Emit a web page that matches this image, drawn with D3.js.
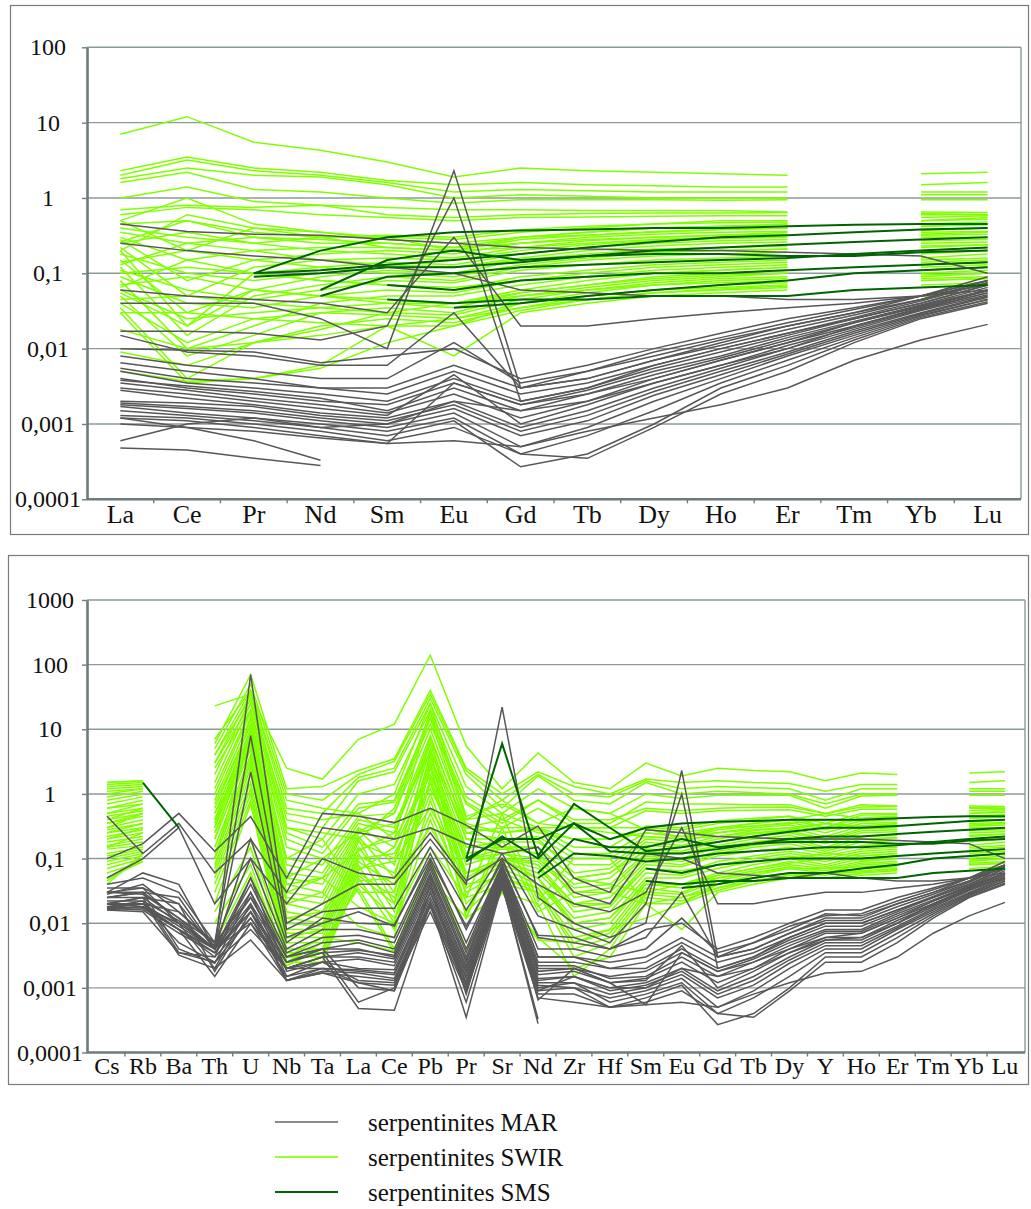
<!DOCTYPE html>
<html><head><meta charset="utf-8">
<script src="https://cdn.jsdelivr.net/npm/d3@7/dist/d3.min.js"></script>
<style>body{margin:0;background:#fff}svg{display:block}
svg text{font-family:"Liberation Serif","Times New Roman","DejaVu Serif",serif !important;}</style>
</head><body>
<svg id="c" width="1031" height="1209"></svg>
<script>
// ---------- categories & ticks ----------
const reeElements = ["La","Ce","Pr","Nd","Sm","Eu","Gd","Tb","Dy","Ho","Er","Tm","Yb","Lu"];
const extraElements = ["Cs","Rb","Ba","Th","U","Nb","Ta","Pb","Sr","Zr","Hf","Y"];
const spiderElements = ["Cs","Rb","Ba","Th","U","Nb","Ta","La","Ce","Pb","Pr","Sr","Nd","Zr","Hf","Sm","Eu","Gd","Tb","Dy","Y","Ho","Er","Tm","Yb","Lu"];
const topTickValues = [0.0001,0.001,0.01,0.1,1,10,100];
const topTickLabels = ["0,0001","0,001","0,01","0,1","1","10","100"];
const bottomTickValues = [0.0001,0.001,0.01,0.1,1,10,100,1000];
const bottomTickLabels = ["0,0001","0,001","0,01","0,1","1","10","100","1000"];
const legendLabels = ["serpentinites MAR","serpentinites SWIR","serpentinites SMS"];

// ---------- MAR serpentinites: REE (La..Lu) ----------
const marREE = [
[.45,.36,.33,.32,.28,.25,.22,.21,.2,.2,.19,.18,.17,.1],
[.25,.2,.17,.15,.12,.1,.06,.055,.05,.05,.045,.045,.05,.06],
[.06,.05,.045,.04,.03,.3,.02,.02,.025,.03,.035,.04,.05,.07],
[.04,.04,.04,.025,.01,2.3,.003,.004,.007,.012,.02,.03,.05,.08],
[.017,.017,.016,.013,.02,1.0,.002,.003,.006,.01,.016,.025,.04,.07],
[.015,.009,.008,.006,.006,.03,.003,.005,.008,.013,.02,.03,.045,.075],
[.01,.0095,.009,.0065,.008,.01,.004,.006,.01,.016,.025,.035,.05,.08],
[.008,.006,.005,.004,.004,.012,.0035,.005,.009,.014,.022,.033,.05,.09],
[.0065,.005,.004,.003,.003,.006,.003,.004,.007,.011,.018,.028,.045,.08],
[.0055,.004,.0035,.003,.0025,.005,.0025,.0035,.006,.01,.016,.026,.043,.075],
[.005,.0035,.003,.0025,.002,.004,.002,.003,.0055,.009,.015,.025,.04,.07],
[.004,.003,.0025,.002,.0018,.0035,.0018,.0028,.005,.008,.014,.023,.038,.065],
[.0038,.0032,.0027,.0022,.0015,.003,.0015,.0025,.0045,.0075,.013,.022,.037,.06],
[.0035,.0028,.0022,.0018,.0014,.0025,.0012,.002,.004,.007,.012,.02,.035,.058],
[.003,.0025,.002,.0016,.0013,.0045,.001,.0018,.0035,.006,.011,.019,.033,.055],
[.0028,.0022,.0018,.0014,.0012,.002,.0009,.0015,.003,.0055,.01,.018,.032,.052],
[.002,.0019,.0017,.0013,.0011,.0018,.0008,.0013,.0027,.005,.009,.017,.03,.05],
[.0019,.0017,.0015,.0012,.001,.0016,.0007,.0011,.0024,.0045,.0085,.016,.029,.048],
[.0018,.0016,.0014,.0011,.0009,.0014,.0005,.0009,.002,.004,.008,.015,.028,.045],
[.0017,.0014,.0012,.001,.0008,.0012,.0004,.0007,.0015,.0035,.007,.014,.027,.045],
[.0015,.0013,.0011,.0009,.0007,.0011,.00027,.0004,.001,.003,.006,.013,.026,.042],
[.0013,.0012,.001,.0008,.0006,.0009,.0004,.00035,.0009,.0025,.005,.012,.025,.04],
[.0012,.0011,.0009,.0007,.00055,.0006,.0005,.0008,.0012,.0018,.003,.007,.013,.021],
[.001,.0009,.0008,.00065,.00055,.0035,.0018,.0025,.004,.007,.012,.022,.036,.06],
[.0006,.001,.0012,.0009,.001,.002,.0015,.002,.0035,.006,.01,.02,.034,.055],
[.00048,.00045,.00035,.00028,null,null,null,null,null,null,null,null,null,null],
[.0012,.0009,.0006,.00033,null,null,null,null,null,null,null,null,null,null]
];
// MAR: other trace elements (Cs,Rb,Ba,Th,U,Nb,Ta,Pb,Sr,Zr,Hf,Y)
const marTrace = [
[.1,.17,.5,.13,.45,.05,.5,.6,.15,.05,.03,.2],
[.45,.12,.35,.06,.2,.03,.3,.3,.12,.03,.02,.06],
[.05,.1,.3,.02,.1,.02,.1,.25,.1,.02,.015,.03],
[.03,.06,.04,.004,70,.01,.02,.2,22,.01,.006,.012],
[.04,.05,.03,.005,8,.008,.015,.15,.12,.008,.005,.01],
[.035,.035,.02,.004,2.2,.006,.01,.12,.1,.005,.004,.014],
[.03,.03,.025,.004,.2,.005,.012,.1,.09,.006,.004,.016],
[.025,.03,.012,.005,.1,.004,.008,.09,.08,.004,.003,.013],
[.025,.025,.01,.004,.05,.0035,.006,.08,.08,.003,.0025,.011],
[.022,.022,.011,.004,.04,.003,.005,.07,.075,.003,.002,.01],
[.02,.02,.015,.0045,.03,.003,.004,.06,.07,.0025,.002,.009],
[.02,.018,.008,.004,.025,.0025,.004,.055,.07,.002,.0015,.008],
[.018,.02,.009,.004,.02,.0025,.0035,.05,.065,.0022,.0014,.0075],
[.018,.017,.008,.0035,.018,.002,.003,.045,.06,.002,.0012,.007],
[.017,.016,.007,.0035,.015,.002,.003,.04,.06,.0018,.0012,.006],
[.016,.015,.0035,.003,.05,.0018,.0025,.035,.055,.0015,.001,.0055],
[.02,.025,.0035,.0025,.012,.0015,.0025,.03,.05,.0015,.0009,.005],
[.025,.03,.004,.0024,.03,.0015,.002,.03,.05,.0012,.0008,.0045],
[.03,.035,.01,.002,.02,.0013,.002,.025,.045,.001,.0007,.004],
[.02,.025,.02,.0018,.015,.0013,.0018,.022,.045,.0012,.0006,.0035],
[.016,.018,.008,.0015,.01,.0013,.0017,.02,.04,.001,.0005,.003],
[.017,.02,.005,.0025,.008,.002,.0025,.018,.04,.0008,.0005,.0025],
[.018,.022,.0032,.002,.0055,.0013,.0017,.015,.035,.0006,.0005,.0017],
[.028,.04,.015,.005,.025,.003,.004,.04,.06,.002,.0012,.006],
[.03,.028,.012,.004,.015,.0025,.0035,.03,.05,.0015,.001,.0055],
[.02,.018,.01,.004,.01,.002,.003,.02,.04,null,null,null],
[.02,.02,.008,.003,.012,.002,.002,.02,.04,null,null,null]
];

// ---------- SWIR serpentinites: REE (La..Lu), Tm not analysed ----------
const swirREE = [
[7,12,5.5,4.3,3.0,1.9,2.5,2.3,2.2,2.1,2.0,null,2.1,2.2],
[2.3,3.5,2.5,2.2,1.7,1.5,1.6,1.5,1.45,1.4,1.4,null,1.5,1.6],
[2.0,3.2,2.3,2.0,1.6,1.2,1.3,1.25,1.2,1.2,1.2,null,1.2,1.2],
[1.8,2.5,2.0,1.9,1.5,1.0,1.1,1.05,1.0,1.0,1.0,null,1.1,1.1],
[1.6,2.2,1.3,1.2,1.0,.85,.95,.95,.95,.93,.95,null,.95,.95],
[1.0,1.4,.9,.8,.6,.55,.6,.62,.63,.63,.64,null,.65,.64],
[.7,.8,.75,.8,.75,.7,.7,.68,.68,.68,.65,null,.62,.6],
[.6,.75,.7,.6,.55,.5,.55,.56,.57,.58,.58,null,.6,.6],
[.45,.5,.35,.3,.3,.28,.35,.4,.45,.5,.5,null,.55,.58],
[.4,.3,.25,.3,.32,.3,.38,.42,.45,.47,.48,null,.5,.52],
[.35,.25,.3,.28,.25,.22,.3,.35,.4,.42,.45,null,.45,.48],
[.3,.15,.2,.22,.22,.2,.28,.32,.36,.38,.4,null,.42,.45],
[.28,.08,.15,.18,.2,.18,.25,.3,.33,.35,.36,null,.38,.4],
[.25,.35,.25,.2,.18,.16,.22,.27,.3,.32,.33,null,.35,.36],
[.22,.05,.12,.15,.16,.15,.2,.24,.27,.29,.3,null,.32,.33],
[.2,.02,.1,.12,.14,.13,.18,.22,.25,.27,.28,null,.3,.3],
[.18,.1,.08,.1,.12,.12,.16,.2,.23,.25,.26,null,.27,.28],
[.15,.03,.06,.09,.11,.1,.15,.18,.21,.22,.23,null,.25,.26],
[.14,.2,.15,.12,.1,.09,.13,.16,.19,.2,.21,null,.23,.24],
[.12,.015,.05,.07,.09,.08,.12,.15,.17,.18,.19,null,.2,.22],
[.11,.06,.045,.06,.08,.075,.11,.13,.15,.16,.17,null,.18,.2],
[.1,.12,.1,.08,.07,.06,.09,.11,.13,.14,.15,null,.16,.18],
[.09,.04,.035,.05,.06,.055,.08,.1,.12,.13,.14,null,.15,.16],
[.08,.01,.02,.04,.05,.05,.07,.09,.11,.12,.13,null,.14,.15],
[.07,.09,.06,.05,.045,.04,.06,.08,.1,.11,.12,null,.13,.14],
[.06,.025,.03,.035,.04,.035,.055,.07,.09,.1,.11,null,.12,.13],
[.05,.008,.015,.03,.035,.03,.05,.065,.08,.09,.1,null,.11,.12],
[.045,.05,.04,.035,.03,.028,.045,.06,.075,.085,.09,null,.1,.11],
[.04,.012,.025,.03,.028,.025,.04,.055,.07,.08,.085,null,.095,.1],
[.035,.004,.012,.02,.025,.022,.035,.05,.06,.07,.075,null,.085,.09],
[.03,.03,.025,.022,.02,.02,.032,.045,.055,.062,.068,null,.08,.085],
[.03,.0035,.004,.006,.02,.008,.03,.04,.05,.055,.06,null,.07,.075],
[.018,.01,.012,.018,.03,.04,.05,.06,.07,.075,.08,null,.09,.1],
[.009,.006,.012,.015,.02,.025,.035,.045,.055,.06,.065,null,.05,.045],
[.005,.0037,.004,.0055,.012,.02,.04,.05,.06,.065,.07,null,.08,.085],
[.5,.2,.4,.35,.3,.2,.3,.32,.35,.38,.4,null,.42,.44],
[.26,.5,.3,.25,.25,.22,.25,.28,.3,.32,.35,null,.37,.4],
[.13,.25,.2,.15,.13,.12,.15,.17,.19,.2,.21,null,.22,.24],
[.065,.15,.1,.08,.07,.065,.08,.09,.1,.11,.12,null,.13,.14],
[.2,.6,.4,.3,.22,.2,.22,.25,.28,.3,.32,null,.33,.35],
[.5,1.0,.45,.35,.28,.25,.3,.35,.4,.42,.45,null,.5,.55],
[.055,.02,.06,.05,.04,.04,.055,.07,.085,.095,.1,null,.11,.12]
];
// SWIR: other trace elements (Cs,Rb,Ba,Th,U,Nb,Ta,Pb,Sr,Zr,Hf,Y), Ba not analysed
const swirTrace = [
[1.5,1.6,null,23,35,2.5,1.7,140,1.2,1.5,1.2,1.6],
[1.4,1.5,null,6,70,1.2,1.3,40,1.0,1.3,1.0,1.1],
[1.3,1.4,null,5,50,1.0,.8,35,.8,1.0,.9,.8],
[1.2,1.3,null,4,40,.6,.5,30,.6,.8,.7,.7],
[1.0,1.2,null,3,35,.4,.3,25,.5,.6,.5,.6],
[.7,.9,null,2,30,.3,.2,20,.4,.4,.4,.5],
[.6,.7,null,1.5,25,.25,.15,15,.35,.35,.35,.5],
[.5,.6,null,1.2,20,.2,.12,12,.3,.3,.3,.45],
[.45,.55,null,1.0,18,.1,.08,10,.25,.2,.2,.35],
[.4,.5,null,.8,15,.08,.06,8,.3,.15,.15,.3],
[.35,.45,null,.6,12,.06,.05,7,.25,.12,.12,.3],
[.3,.4,null,.5,10,.05,.04,6,.2,.1,.1,.28],
[.28,.35,null,.4,9,.04,.03,5,.18,.08,.08,.25],
[.25,.3,null,.35,8,.03,.025,4.5,.2,.06,.07,.22],
[.22,.28,null,.3,7,.025,.02,4,.15,.05,.06,.2],
[.2,.25,null,.25,6,.02,.015,3.5,.14,.04,.05,.19],
[.18,.22,null,.2,5,.015,.012,3,.12,.035,.04,.17],
[.16,.2,null,.15,4,.012,.01,2.5,.1,.03,.035,.15],
[.15,.18,null,.12,3.5,.01,.009,2,.15,.025,.03,.14],
[.14,.16,null,.1,3,.008,.008,1.8,.1,.02,.025,.13],
[.12,.15,null,.08,2.5,.007,.007,1.5,.09,.018,.02,.12],
[.11,.14,null,.07,2,.006,.006,1.2,.12,.015,.018,.11],
[.1,.13,null,.06,1.5,.005,.005,1,.08,.012,.015,.1],
[.09,.12,null,.05,1.2,.004,.004,.8,.07,.01,.012,.09],
[.08,.11,null,.04,1,.0035,.0035,.6,.1,.008,.01,.08],
[.07,.1,null,.03,.8,.003,.003,.5,.06,.006,.008,.075],
[.06,.09,null,.02,.7,.0025,.0025,.4,.05,.005,.007,.07],
[.05,.09,null,.015,.15,.002,.003,.3,.05,.004,.006,.065],
[.045,.1,null,.01,.08,.0022,.004,.15,.04,.003,.005,.06],
[.04,.12,null,.005,.06,.0025,.005,.05,.03,.0015,.004,.055],
[.6,.8,null,.2,10,.1,.2,8,.5,.1,.1,.06],
[.3,.5,null,.1,8,.05,.1,.1,.03,.002,.003,.06],
[.5,.7,null,.5,5,.03,.05,3,.3,.05,.04,.07],
[.4,.6,null,.3,15,.02,.03,5,.2,.03,.03,.05],
[.2,.3,null,.004,.2,.003,.006,.08,.03,.005,.008,.06],
[.8,1.0,null,3,25,.5,.4,20,.8,.3,.3,.4],
[.9,1.1,null,2.5,20,.15,.1,15,.4,.2,.2,.35],
[.35,.5,null,.7,12,.04,.05,6,.15,.05,.06,.2],
[.25,.35,null,.4,6,.012,.015,2,.1,.02,.02,.12],
[1.1,1.2,null,4,30,.3,.25,18,.5,.3,.25,.35],
[1.5,1.6,null,7,40,.8,.6,25,.7,.6,.5,.5],
[.15,.25,null,.1,3,.006,.008,1.5,.08,.01,.012,.1]
];

// ---------- SMS serpentinites ----------
const smsREE = [
[null,null,.1,.2,.3,.35,.37,.38,.4,.4,.42,.44,.45,.45],
[null,null,.1,.11,.13,.15,.18,.22,.26,.3,.32,.35,.38,.4],
[null,null,.09,.1,.12,.12,.14,.17,.2,.22,.24,.26,.28,.3],
[null,null,null,.06,.15,.2,.15,.17,.18,.18,.17,.17,.19,.2],
[null,null,null,.05,.09,.1,.12,.13,.14,.15,.16,.18,.2,.22],
[null,null,null,null,.07,.06,.08,.09,.1,.1,.11,.12,.13,.14],
[null,null,null,null,.045,.04,.045,.045,.05,.05,.05,.06,.065,.07],
[null,null,null,null,null,.035,.04,.05,.06,.07,.08,.1,.11,.12]
];
const smsTrace = [
[null,1.5,.3,null,null,null,null,null,.2,.35,.2,.4],
[null,null,null,null,null,null,null,null,6,.7,.3,.3],
[null,null,null,null,null,null,null,null,.22,.35,.13,.22],
[null,null,null,null,null,null,null,null,null,.2,.15,.18],
[null,null,null,null,null,null,null,null,null,.12,.11,.15],
[null,null,null,null,null,null,null,null,null,null,null,.1],
[null,null,null,null,null,null,null,null,null,null,null,.05],
[null,null,null,null,null,null,null,null,null,null,null,.06]
];

// ---------- helpers ----------
function toSpider(reeRows, traceRows){
  return reeRows.map((r,i)=>spiderElements.map(el=>{
    const a = reeElements.indexOf(el);
    return a>=0 ? r[a] : traceRows[i][extraElements.indexOf(el)];
  }));
}
const colors = {MAR:"#575757", SWIR:"#80ff00", SMS:"#006400"};
const groupsTop = [
  {rows:swirREE, color:colors.SWIR, w:1.5},
  {rows:marREE, color:colors.MAR, w:1.5},
  {rows:smsREE, color:colors.SMS, w:2}
];
const groupsBottom = [
  {rows:toSpider(swirREE, swirTrace), color:colors.SWIR, w:1.5},
  {rows:toSpider(marREE, marTrace), color:colors.MAR, w:1.5},
  {rows:toSpider(smsREE, smsTrace), color:colors.SMS, w:2}
];

const svg = d3.select("#c");
const FONT = '"Liberation Serif","Times New Roman","DejaVu Serif",serif';
const GRID = "#8c9a9a", AXIS = "#6c7c7c";

// frames
svg.append("rect").attr("x",10.5).attr("y",5.5).attr("width",1018).attr("height",529)
  .attr("fill","none").attr("stroke","#7a7a7a").attr("stroke-width",1.2);
svg.append("rect").attr("x",8.5).attr("y",555.5).attr("width",1020).attr("height",529)
  .attr("fill","none").attr("stroke","#7a7a7a").attr("stroke-width",1.2);

function panel(cfg){
  const g = svg.append("g");
  const x = d3.scaleBand().domain(cfg.cats).range([cfg.bx0, cfg.bx1]);
  const cx = d => x(d) + x.bandwidth()/2;
  const y = d3.scaleLog().domain(cfg.yDomain).range(cfg.yRange);
  const top = cfg.yRange[1], bottom = cfg.yRange[0];
  g.selectAll("line.grid").data(cfg.ticks.slice(1)).join("line")
    .attr("x1",cfg.ax).attr("x2",cfg.right).attr("y1",d=>y(d)).attr("y2",d=>y(d))
    .attr("stroke",GRID).attr("stroke-width",1.4);
  g.append("line").attr("x1",cfg.right).attr("x2",cfg.right).attr("y1",top).attr("y2",bottom)
    .attr("stroke",GRID).attr("stroke-width",1.4);
  const line = d3.line().defined(d=>d.v!=null).x(d=>cx(d.k)).y(d=>y(d.v));
  cfg.groups.forEach(gr=>{
    g.append("g").selectAll("path").data(gr.rows).join("path")
      .attr("d",r=>line(r.map((v,i)=>({k:cfg.cats[i],v}))))
      .attr("fill","none").attr("stroke",gr.color).attr("stroke-width",gr.w)
      .attr("stroke-linejoin","miter");
  });
  const ya = g.append("g").attr("transform",`translate(${cfg.ax},0)`)
    .call(d3.axisLeft(y).tickValues(cfg.ticks).tickFormat((d,i)=>cfg.tickLabels[i]).tickSize(5).tickSizeOuter(0));
  ya.attr("font-family",FONT);
  ya.select(".domain").attr("stroke",AXIS).attr("stroke-width",2.6);
  ya.selectAll(".tick line").attr("stroke",AXIS).attr("stroke-width",1.4);
  ya.selectAll(".tick text").attr("x",cfg.labelX - cfg.ax).attr("text-anchor","middle")
    .style("font-family",FONT).attr("font-size",24).attr("fill","#111").attr("dy","0.32em");
  const xa = g.append("g").attr("transform",`translate(0,${bottom})`)
    .call(d3.axisBottom(x).tickSize(0).tickPadding(cfg.xPad));
  xa.attr("font-family",FONT);
  xa.select(".domain").remove();
  xa.append("line").attr("x1",cfg.ax).attr("x2",cfg.right).attr("y1",0).attr("y2",0)
    .attr("stroke",AXIS).attr("stroke-width",2.6);
  xa.selectAll(".tick text").style("font-family",FONT).attr("font-size",cfg.xFont).attr("fill","#111");
  xa.selectAll("line.bt").data(cfg.cats.slice(1)).join("line").attr("class","bt")
    .attr("x1",d=>x(d)).attr("x2",d=>x(d)).attr("y1",0).attr("y2",4)
    .attr("stroke",AXIS).attr("stroke-width",1.4);
}

panel({cats:reeElements, bx0:87, bx1:1021, ax:87, right:1021,
  yDomain:[1e-4,100], yRange:[499.3,47.3], ticks:topTickValues, tickLabels:topTickLabels,
  labelX:48, xPad:5, xFont:26, groups:groupsTop});
panel({cats:spiderElements, bx0:89, bx1:1023, ax:87, right:1025,
  yDomain:[1e-4,1000], yRange:[1052.5,600], ticks:bottomTickValues, tickLabels:bottomTickLabels,
  labelX:50, xPad:4, xFont:24, groups:groupsBottom});

const legendColors = ["#8a8a8a","#99ff33","#006600"];
const lg = svg.append("g");
lg.selectAll("line").data(legendLabels).join("line")
  .attr("x1",275).attr("x2",338).attr("y1",(d,i)=>1122+i*35).attr("y2",(d,i)=>1122+i*35)
  .attr("stroke",(d,i)=>legendColors[i]).attr("stroke-width",2);
lg.selectAll("text").data(legendLabels).join("text")
  .attr("x",368).attr("y",(d,i)=>1131+i*35).text(d=>d)
  .style("font-family",FONT).attr("font-size",25).attr("fill","#111");
</script>
</body></html>
